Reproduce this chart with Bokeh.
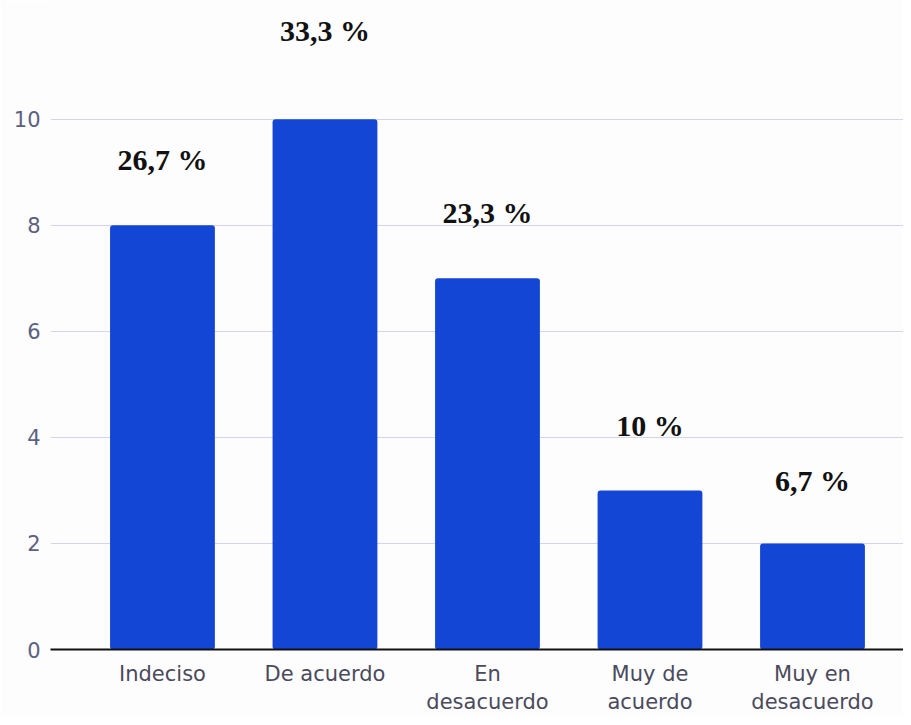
from bokeh.plotting import figure
from bokeh.models import ColumnDataSource, Range1d, FixedTicker
from bokeh.core.properties import value
from bokeh.embed import file_html
from bokeh.resources import INLINE

# ---- data ----
categories = ["Indeciso", "De acuerdo", "En\ndesacuerdo", "Muy de\nacuerdo", "Muy en\ndesacuerdo"]
counts = [8, 10, 7, 3, 2]
pct_labels = ["26,7 %", "33,3 %", "23,3 %", "10 %", "6,7 %"]
y_ticks = [0, 2, 4, 6, 8, 10]

# ---- styling ----
label_offsets = [-66, -89, -66, -65, -63]
bar_color = "#1446d6"

xs = list(range(len(categories)))
src = ColumnDataSource(dict(x=xs, top=counts, pct=pct_labels, off=label_offsets))

p = figure(width=903, height=717,
           x_range=Range1d(-0.689, 4.56), y_range=Range1d(0, 12.24),
           output_backend="svg", toolbar_location=None,
           min_border_left=50, min_border_right=0, min_border_top=0, min_border_bottom=67)
p.outline_line_color = None
p.background_fill_color = "#fdfdfd"
p.border_fill_color = "#fdfdfd"

p.vbar(x="x", top="top", bottom=0, width=0.645, source=src,
       fill_color=bar_color, line_color=None, border_radius=3)

p.text(x="x", y="top", text="pct", source=src, y_offset="off",
       text_font=value("Liberation Serif"), text_font_style="bold",
       text_font_size="30px", text_align="center", text_baseline="middle",
       text_color="#111111")

# grid
p.xgrid.visible = False
p.ygrid.ticker = FixedTicker(ticks=y_ticks[1:])
p.ygrid.grid_line_color = "#d4d4ee"
p.ygrid.grid_line_width = 1

# y axis
p.yaxis.ticker = FixedTicker(ticks=y_ticks)
p.yaxis.axis_line_color = None
p.yaxis.major_tick_line_color = None
p.yaxis.minor_tick_line_color = None
p.yaxis.major_label_standoff = 4
p.yaxis.major_label_text_font = "DejaVu Sans"
p.yaxis.major_label_text_font_size = "21px"
p.yaxis.major_label_text_color = "#5c6080"

# x axis
p.xaxis.ticker = FixedTicker(ticks=xs)
p.xaxis.major_label_overrides = {i: c for i, c in zip(xs, categories)}
p.xaxis.axis_line_color = "#111111"
p.xaxis.axis_line_width = 2
p.xaxis.major_tick_line_color = None
p.xaxis.minor_tick_line_color = None
p.xaxis.major_label_standoff = 6
p.xaxis.major_label_text_font = "DejaVu Sans"
p.xaxis.major_label_text_font_size = "21px"
p.xaxis.major_label_text_color = "#4a4a5c"
p.xaxis.major_label_text_line_height = 1.2

open("out.html", "w").write(file_html(p, INLINE))
